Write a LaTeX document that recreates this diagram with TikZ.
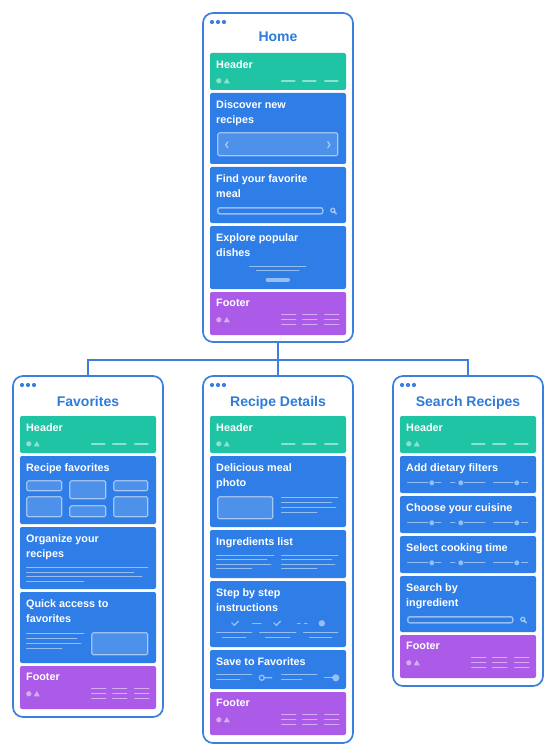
\documentclass[tikz,border=0pt]{standalone}
\usepackage{fontspec}
\setmainfont{Liberation Sans}
\definecolor{mapblue}{HTML}{2F7EE8}
\definecolor{mapframe}{HTML}{3A80DC}
\definecolor{mapgreen}{HTML}{1EC4A4}
\definecolor{mappurple}{HTML}{AB5BE7}
\definecolor{maptitle}{HTML}{2E7BDA}

\begin{document}
\begin{tikzpicture}[x=1pt, y=-1pt,
        phone/.style={rectangle, rounded corners=10pt, draw=mapframe, line width=1.7pt, fill=white, minimum width=150pt},
        sec/.style={rectangle, rounded corners=2pt, minimum width=136pt, inner sep=0pt},
        screentitle/.style={anchor=base, inner sep=0pt, text=maptitle, font=\fontsize{14}{16}\selectfont\bfseries},
        lbl/.style={anchor=north west, inner sep=0pt, align=left, text=white, font=\fontsize{10.8}{15}\selectfont\bfseries},
        deco/.style={draw=white, draw opacity=0.5, line width=1.35pt, line cap=round},
        decofill/.style={fill=white, fill opacity=0.5},
        frameline/.style={deco, line width=1.2pt, fill=white, fill opacity=0.15, rounded corners=1.5pt},
        link/.style={draw=mapframe, line width=1.4pt},
        dots/.pic={\foreach \a in {0,6,12} \fill[mapframe] (\a,0) circle (2.1);},
        headicons/.pic={
          \fill[decofill] (9,28) circle (2.6);
          \fill[decofill] (14,30.5) -- (20,30.5) -- (17,25.3) -- cycle;
          \foreach \a in {72,93,115} \draw[deco, line width=1.7pt] (\a,28) -- ++(13,0);},
        footicons/.pic={
          \fill[decofill] (9,28) circle (2.6);
          \fill[decofill] (14,30.5) -- (20,30.5) -- (17,25.3) -- cycle;
          \foreach \a in {72,93,115} \foreach \b in {23,28,33} \draw[deco] (\a,\b) -- ++(14,0);},
        carousel/.pic={
          \draw[frameline] (8,40) rectangle (128,63);
          \draw[deco] (18,49) -- (16,52) -- (18,55);
          \draw[deco] (118,49) -- (120,52) -- (118,55);},
        searchbar/.pic={
          \draw[deco, line width=1.4pt, rounded corners=2pt] (8,41) rectangle (113,47);
          \draw[deco, line width=1.4pt] (123,43.5) circle (2);
          \draw[deco, line width=1.6pt] (124.5,45) -- (126.5,47);},
        slider/.pic={
          \draw[deco] (8,27) -- (28,27) (36,27) -- (41,27);
          \draw[deco] (51,27) -- (55,27) (65,27) -- (85,27);
          \draw[deco] (94,27) -- (113,27) (122,27) -- (128,27);
          \foreach \a in {32,61,117} \fill[decofill] (\a,27) circle (2.5);}]

  \useasboundingbox (0,0) rectangle (554,754);

  % Screens
  \node[phone, minimum height=329pt] (home) at (278,177.5) {};
  \node[phone, minimum height=341pt] (fav) at (88,546.5) {};
  \node[phone, minimum height=367pt] (details) at (278,559.5) {};
  \node[phone, minimum height=310pt] (search) at (468,531) {};

  % Navigation links
  \draw[link] (home.south) -- ++(0,17) coordinate (hub);
  \draw[link] (hub) -| (fav.north);
  \draw[link] (hub) -- (details.north);
  \draw[link] (hub) -| (search.north);

  \pic at (212,22) {dots};
  \pic at (22,385) {dots};
  \pic at (212,385) {dots};
  \pic at (402,385) {dots};
  \node[screentitle] (hometitle) at (278,42) {Home};
  \node[screentitle] (favtitle) at (88,406) {Favorites};
  \node[screentitle] (dettitle) at (278,406) {Recipe Details};
  \node[screentitle] (srctitle) at (468,406) {Search Recipes};

  % Home
  \node[sec, fill=mapgreen, minimum height=37pt] (homehdr) at (278,71.5) {};
  \node[sec, fill=mapblue, minimum height=71pt] (homedisc) at (278,128.5) {};
  \node[sec, fill=mapblue, minimum height=56pt] (homefind) at (278,195) {};
  \node[sec, fill=mapblue, minimum height=63pt] (homeexpl) at (278,257.5) {};
  \node[sec, fill=mappurple, minimum height=43pt] (homefoot) at (278,313.5) {};
  \node[lbl] (homehdrlbl) at (216,60) {Header};
  \node[lbl] (homedisclbl) at (216,100) {Discover new\\recipes};
  \node[lbl] (homefindlbl) at (216,174) {Find your favorite\\meal};
  \node[lbl] (homeexpllbl) at (216,233) {Explore popular\\dishes};
  \node[lbl] (homefootlbl) at (216,299) {Footer};
  \pic at (homehdr.north west) {headicons};
  \pic at (homedisc.north west) {carousel};
  \pic at (homefind.north west) {searchbar};
  \begin{scope}[shift={(homeexpl.north west)}]
    \draw[deco] (40,41) -- (96,41) (47,45) -- (89,45);
    \draw[deco, line width=4.5pt] (58,54) -- (78,54);
  \end{scope}
  \pic at (homefoot.north west) {footicons};

  % Favorites
  \node[sec, fill=mapgreen, minimum height=37pt] (favhdr) at (88,434.5) {};
  \node[sec, fill=mapblue, minimum height=68pt] (favgrid) at (88,490) {};
  \node[sec, fill=mapblue, minimum height=62pt] (favorg) at (88,558) {};
  \node[sec, fill=mapblue, minimum height=71pt] (favquick) at (88,627.5) {};
  \node[sec, fill=mappurple, minimum height=43pt] (favfoot) at (88,687.5) {};
  \node[lbl] (favhdrlbl) at (26,423) {Header};
  \node[lbl] (favgridlbl) at (26,463) {Recipe favorites};
  \node[lbl] (favorglbl) at (26,534) {Organize your\\recipes};
  \node[lbl] (favquicklbl) at (26,599) {Quick access to\\favorites};
  \node[lbl] (favfootlbl) at (26,673) {Footer};
  \pic at (favhdr.north west) {headicons};
  \begin{scope}[shift={(favgrid.north west)}]
    \draw[frameline] (7,25) rectangle (42,35) (7,41) rectangle (42,61);
    \draw[frameline] (50,25) rectangle (86,43) (50,50) rectangle (86,61);
    \draw[frameline] (94,25) rectangle (128,35) (94,41) rectangle (128,61);
  \end{scope}
  \begin{scope}[shift={(favorg.north west)}]
    \foreach \y/\e in {41/128, 46/114, 50/122, 55/64} \draw[deco] (7,\y) -- (\e,\y);
  \end{scope}
  \begin{scope}[shift={(favquick.north west)}]
    \foreach \y/\e in {42/64, 47/57, 52/61, 57/42} \draw[deco] (7,\y) -- (\e,\y);
    \draw[frameline] (72,41) rectangle (128,63);
  \end{scope}
  \pic at (favfoot.north west) {footicons};

  % Recipe Details
  \node[sec, fill=mapgreen, minimum height=37pt] (dethdr) at (278,434.5) {};
  \node[sec, fill=mapblue, minimum height=71pt] (detphoto) at (278,491.5) {};
  \node[sec, fill=mapblue, minimum height=48pt] (detingr) at (278,554) {};
  \node[sec, fill=mapblue, minimum height=66pt] (detstep) at (278,614) {};
  \node[sec, fill=mapblue, minimum height=39pt] (detsave) at (278,669.5) {};
  \node[sec, fill=mappurple, minimum height=43pt] (detfoot) at (278,713.5) {};
  \node[lbl] (dethdrlbl) at (216,423) {Header};
  \node[lbl] (detphotolbl) at (216,463) {Delicious meal\\photo};
  \node[lbl] (detingrlbl) at (216,537) {Ingredients list};
  \node[lbl] (detsteplbl) at (216,588) {Step by step\\instructions};
  \node[lbl] (detsavelbl) at (216,657) {Save to Favorites};
  \node[lbl] (detfootlbl) at (216,699) {Footer};
  \pic at (dethdr.north west) {headicons};
  \begin{scope}[shift={(detphoto.north west)}]
    \draw[frameline] (8,41) rectangle (63,63);
    \foreach \y/\e in {42/128, 47/122, 52/126, 57/107} \draw[deco] (72,\y) -- (\e,\y);
  \end{scope}
  \begin{scope}[shift={(detingr.north west)}]
    \foreach \y/\e in {26/64, 30/57, 35/61, 39/42} \draw[deco] (7,\y) -- (\e,\y);
    \foreach \y/\e in {26/128, 30/122, 35/125, 39/107} \draw[deco] (72,\y) -- (\e,\y);
  \end{scope}
  \begin{scope}[shift={(detstep.north west)}]
    \draw[deco] (22,42) -- (24.5,44.5) -- (28.5,40.5);
    \draw[deco, line width=1.6pt] (43,42.5) -- (51,42.5);
    \draw[deco] (64,42) -- (66.5,44.5) -- (70.5,40.5);
    \draw[deco, line width=1.6pt] (88,42.5) -- (90,42.5) (95,42.5) -- (97,42.5);
    \fill[decofill] (112,42.5) circle (3.2);
    \foreach \a/\b/\c/\d in {7/42/13/36, 50/86/56/80, 94/128/100/122}
      \draw[deco] (\a,52) -- (\b,52) (\c,57) -- (\d,57);
  \end{scope}
  \begin{scope}[shift={(detsave.north west)}]
    \draw[deco] (7,25) -- (42,25) (7,30) -- (30,30);
    \draw[deco] (52,28) circle (2.5) (54.5,28) -- (62,28);
    \draw[deco] (72,25) -- (107,25) (72,30) -- (92,30);
    \draw[deco] (115,28) -- (123,28);
    \fill[decofill] (126,28) circle (3.6);
  \end{scope}
  \pic at (detfoot.north west) {footicons};

  % Search Recipes
  \node[sec, fill=mapgreen, minimum height=37pt] (srchdr) at (468,434.5) {};
  \node[sec, fill=mapblue, minimum height=37pt] (srcdiet) at (468,474.5) {};
  \node[sec, fill=mapblue, minimum height=37pt] (srccuis) at (468,514.5) {};
  \node[sec, fill=mapblue, minimum height=37pt] (srctime) at (468,554.5) {};
  \node[sec, fill=mapblue, minimum height=56pt] (srcingr) at (468,604) {};
  \node[sec, fill=mappurple, minimum height=43pt] (srcfoot) at (468,656.5) {};
  \node[lbl] (srchdrlbl) at (406,423) {Header};
  \node[lbl] (srcdietlbl) at (406,463) {Add dietary filters};
  \node[lbl] (srccuislbl) at (406,503) {Choose your cuisine};
  \node[lbl] (srctimelbl) at (406,543) {Select cooking time};
  \node[lbl] (srcingrlbl) at (406,583) {Search by\\ingredient};
  \node[lbl] (srcfootlbl) at (406,642) {Footer};
  \pic at (srchdr.north west) {headicons};
  \pic at (srcdiet.north west) {slider};
  \pic at (srccuis.north west) {slider};
  \pic at (srctime.north west) {slider};
  \pic at (srcingr.north west) {searchbar};
  \pic at (srcfoot.north west) {footicons};
\end{tikzpicture}
\end{document}
